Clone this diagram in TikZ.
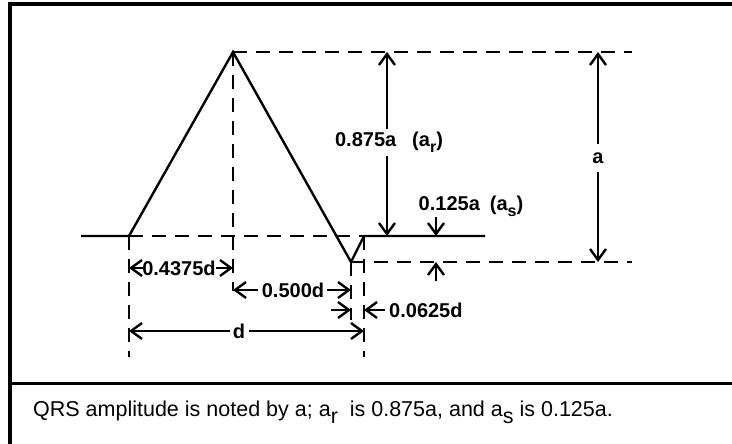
\documentclass[tikz,border=0pt]{standalone}
\usepackage{fontspec}
\setmainfont{Liberation Sans}
\usetikzlibrary{arrows.meta}
\newcommand\lsub[1]{\raisebox{-6pt}{\fontsize{16}{16}\selectfont #1}}
\newcommand\csub[1]{\raisebox{-7pt}{#1}}
\begin{document}
\begin{tikzpicture}[x=1pt,y=-1pt,
  wave/.style={line width=2.4pt, line join=miter},
  dsh/.style={line width=2.4pt, dash pattern=on 14pt off 9pt},
  dim/.style={line width=2.4pt, -{Straight Barb[length=11pt,width=16pt]}},
  lbl/.style={font=\fontsize{20}{22}\selectfont\bfseries, inner sep=0pt},
  frame/.style={line width=3.5pt}]
\useasboundingbox (0,0) rectangle (732,444);
\fill[white] (0,0) rectangle (732,444);
% frame
\draw[frame] (732,4) -- (10,4) -- (10,444);
\draw[line width=3pt] (10,383) -- (732,383);
% key points
\coordinate (st) at (81,236);
\coordinate (Q) at (129,236);
\coordinate (R) at (233,52);
\coordinate (S) at (351,262);
\coordinate (J) at (364,236);
\coordinate (en) at (485,236);
% waveform
\draw[wave] (st) -- (Q) -- (R) -- (S) -- (J) -- (en);
% dashed guides
\draw[dsh] (Q) -- (J);
\draw[dsh] (R) -- (632,52) coordinate (topR);
\draw[dsh] (S) -- (632,262) coordinate (botR);
\draw[dsh] (Q) -- (129,357);
\draw[dsh] (R) -- (233,291);
\draw[dsh] (S) -- (351,320);
\draw[dsh] (J) -- (364,357);
% 0.875a
\node[lbl] (lr) at (389,142) {0.875a\hspace{0.8em}(a\lsub{r})};
\draw[dim] (387,129) -- (387,52);
\draw[dim] (387,156) -- (387,236);
% a
\node[lbl] (la) at (598,158) {a};
\draw[dim] (598,144) -- (598,52);
\draw[dim] (598,172) -- (598,262);
% 0.125a
\node[lbl] (ls) at (471,206) {0.125a\hspace{0.5em}(a\lsub{s})};
\draw[dim] (436,217) -- (436,236);
\draw[dim] (436,281) -- (436,262);
% 0.4375d
\node[lbl] (l1) at (179,268) {0.4375d};
\draw[dim] (143,268) -- (129,268);
\draw[dim] (216,268) -- (233,268);
% 0.500d
\node[lbl] (l2) at (293,290) {0.500d};
\draw[dim] (258,290) -- (233,290);
\draw[dim] (327,290) -- (351,290);
% 0.0625d
\node[lbl,anchor=west] (l3) at (389,310) {0.0625d};
\draw[dim] (331,310) -- (351,310);
\draw[dim] (385,310) -- (364,310);
% d
\node[lbl] (ld) at (239,331) {d};
\draw[dim] (230,331) -- (129,331);
\draw[dim] (249,331) -- (364,331);
% caption
\node[anchor=west,inner sep=0pt,font=\fontsize{21.5}{24}\selectfont] (cap) at (33,412)
  {QRS amplitude is noted by a; a\csub{r}\ \ is 0.875a, and a\csub{s}\ is 0.125a.};
\end{tikzpicture}
\end{document}
